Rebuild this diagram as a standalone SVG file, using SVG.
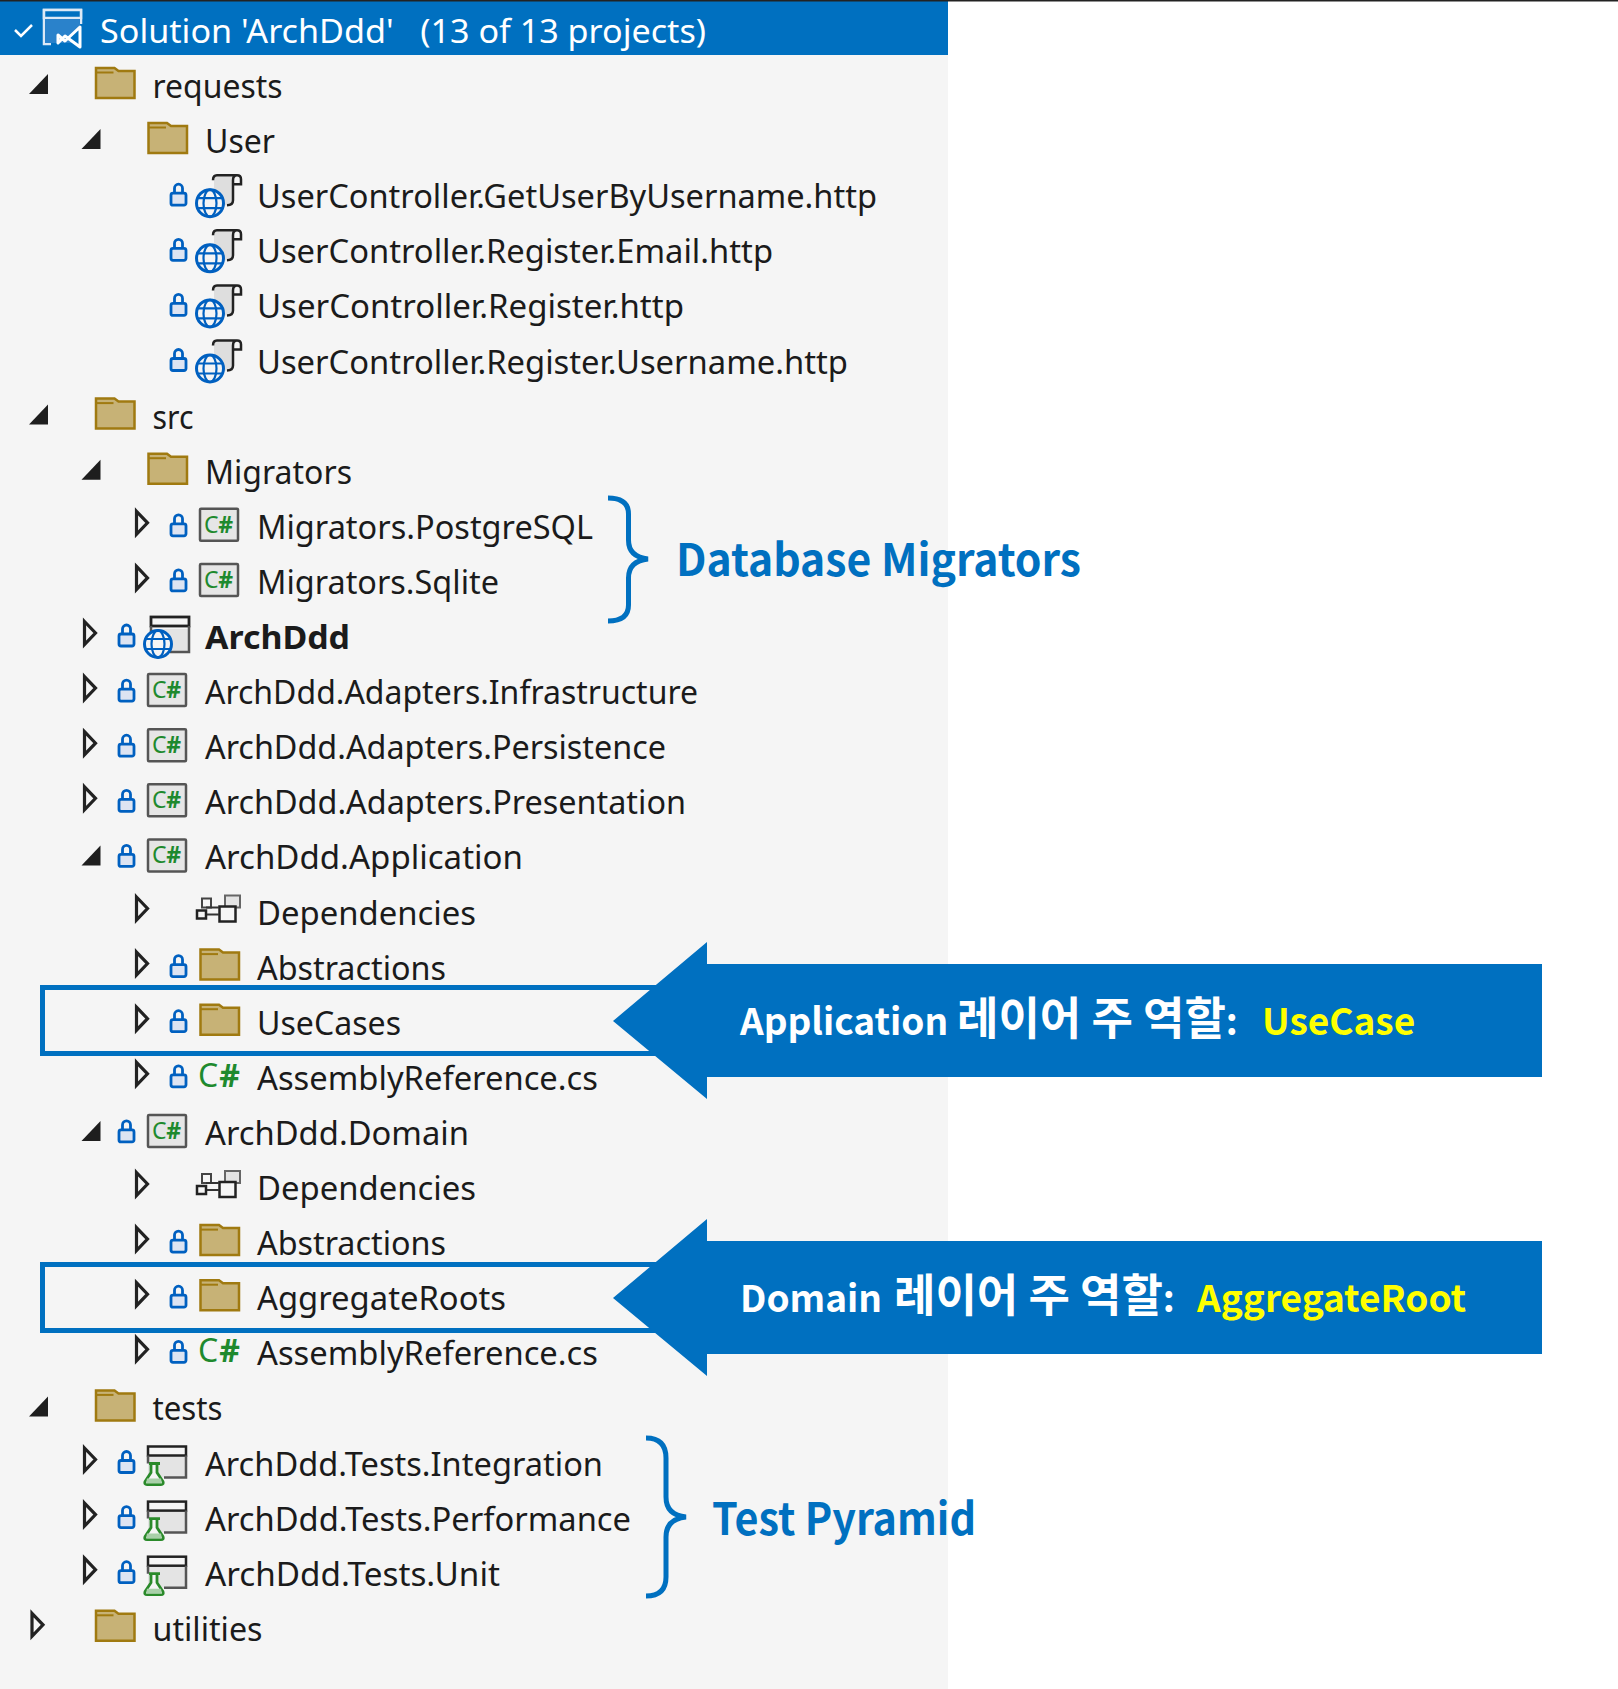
<svg xmlns="http://www.w3.org/2000/svg" width="1618" height="1689" viewBox="0 0 1618 1689">
<style>
.t{font-family:"Noto Sans","Open Sans","Liberation Sans",sans-serif;font-size:32px;fill:#1b1b1b}
.cs{font-family:"Noto Sans","Liberation Sans",sans-serif;font-size:23px;fill:#1e8a2e}
.csp{font-family:"Noto Sans","Liberation Sans",sans-serif;font-size:32px;fill:#1e8a2e}
.sh{font-weight:700}
.hd{font-family:"Noto Sans","Open Sans",sans-serif;font-size:32px;fill:#fff}
.lab{font-family:"Noto Sans CJK KR","Noto Sans",sans-serif;font-weight:700;font-size:44px;fill:#0070c0}
.call{font-family:"Noto Sans CJK KR","Noto Sans",sans-serif;font-weight:700;font-size:37px;fill:#fff}
.ko{font-size:45px}
.y{fill:#ffff00}
.box{fill:none;stroke:#0070c0;stroke-width:5}
.brace{fill:none;stroke:#0070c0;stroke-width:5}
.arrow{fill:#0070c0}
</style>
<defs>
<path id="open" d="M136.500 -27.500L147.500 -16L136.500 -4.500Z" fill="none" stroke="#222" stroke-width="3.200"/>
<path id="fill" d="M152.500 -24V-4H133.500Z" fill="#1e1e1e"/>
<g id="lock"><rect x="171" y="-15" width="15" height="12" rx="2" fill="#dde4f2" stroke="#0060c0" stroke-width="2.800"/><path d="M174.500 -15V-20a4 4 0 0 1 8 0V-15" fill="none" stroke="#0060c0" stroke-width="2.800"/></g>
<g id="folder"><path d="M200.500 0V-30H219L223 -27H239V0Z" fill="#c7b276" stroke="#a07a10" stroke-width="2.500"/><path d="M200.500 -25.500H218" fill="none" stroke="#a07a10" stroke-width="2"/></g>
<rect id="csbox" x="200" y="-30" width="38" height="32" rx="1" fill="#e6e6e6" stroke="#555" stroke-width="2.500"/>
<g id="globe"><circle cx="210" cy="-5" r="13.500" fill="#f5f5f5" stroke="#0060c0" stroke-width="3"/><ellipse cx="210" cy="-5" rx="6.500" ry="13.500" fill="none" stroke="#0060c0" stroke-width="2.200"/><path d="M198 -10H222M198 0H222" fill="none" stroke="#0060c0" stroke-width="2.200"/></g>
<g id="web"><path d="M214 -32H233V-8Q233 -4 229 -3H214Z" fill="#dedede"/><path d="M233 -8V-28Q233 -33 237 -33Q241 -33 241 -29V-24H233M213 -28Q213 -33 217 -33H237M233 -8Q233 -3 227 -3" fill="none" stroke="#222" stroke-width="2.500"/><use href="#globe"/></g>
<g id="dep"><rect x="225" y="-29" width="15" height="12" fill="#e4e4e4" stroke="#666" stroke-width="2"/><rect x="219.500" y="-18" width="16" height="15" fill="#f5f5f5" stroke="#222" stroke-width="2.500"/><rect x="202" y="-26" width="9" height="9" fill="#f5f5f5" stroke="#444" stroke-width="2"/><rect x="197" y="-14" width="9" height="8" fill="#f5f5f5" stroke="#222" stroke-width="2.500"/><path d="M206 -17H219M207 -10H219" fill="none" stroke="#333" stroke-width="2"/></g>
<g id="test"><rect x="200" y="-20" width="37" height="22" fill="#e4e4e4"/><rect x="200" y="-29" width="38" height="9" fill="#f5f5f5" stroke="#222" stroke-width="2.500"/><path d="M200 -20V-12M238 -20V2H216" fill="none" stroke="#555" stroke-width="2.500"/><path d="M201 -12H212M203 -12V-3L197 6Q196 9 199 9H213Q216 9 215 6L209 -3V-12" fill="#f5f5f5" stroke="#2a8a2a" stroke-width="2.800"/><path d="M199 3H213L214 8H198Z" fill="#a9d0a9"/></g>
<g id="webapp"><rect x="203" y="-20" width="37" height="23" fill="#e4e4e4"/><rect x="203" y="-32" width="38" height="9" fill="#f5f5f5" stroke="#222" stroke-width="2.800"/><path d="M203 -23V-15M241 -23V3H222" fill="none" stroke="#555" stroke-width="2.500"/><use href="#globe"/></g>
</defs>
<rect width="1618" height="1689" fill="#fff"/>
<rect width="948" height="1689" fill="#f5f5f5"/>
<rect width="948" height="54" y="1" fill="#0070c0"/>
<rect width="1618" height="1.500" fill="#222"/>
<g id="solution">
<path d="M15 30L21 36L32 25" fill="none" stroke="#fff" stroke-width="2.500"/>
<path d="M51 44H44V10H81V24" fill="none" stroke="#dce9f6" stroke-width="2.500"/><rect x="44" y="10" width="37" height="8" fill="#0070c0" stroke="#dce9f6" stroke-width="2.500"/><rect x="45" y="19" width="35" height="24" fill="#2a82cb"/>
<path d="M58 35L65 41L80 27V47L65 36L58 43Z" fill="#0070c0" stroke="#fff" stroke-width="3" stroke-linejoin="round"/>
<text class="hd" x="100" y="43" xml:space="preserve" textLength="606" lengthAdjust="spacingAndGlyphs">Solution 'ArchDdd'   (13 of 13 projects)</text>
</g>
<g id="n-requests" transform="translate(-104.5,98)"><use href="#fill"/><use href="#folder"/><text class="t" x="257" textLength="130" lengthAdjust="spacingAndGlyphs">requests</text></g>
<g id="n-user" transform="translate(-52,153)"><use href="#fill"/><use href="#folder"/><text class="t" x="257" textLength="70" lengthAdjust="spacingAndGlyphs">User</text></g>
<g id="n-http1" transform="translate(0,208.200)"><use href="#lock"/><use href="#web"/><text class="t" x="257" textLength="620" lengthAdjust="spacingAndGlyphs">UserController.GetUserByUsername.http</text></g>
<g id="n-http2" transform="translate(0,263.300)"><use href="#lock"/><use href="#web"/><text class="t" x="257" textLength="516" lengthAdjust="spacingAndGlyphs">UserController.Register.Email.http</text></g>
<g id="n-http3" transform="translate(0,318.400)"><use href="#lock"/><use href="#web"/><text class="t" x="257" textLength="427" lengthAdjust="spacingAndGlyphs">UserController.Register.http</text></g>
<g id="n-http4" transform="translate(0,373.500)"><use href="#lock"/><use href="#web"/><text class="t" x="257" textLength="591" lengthAdjust="spacingAndGlyphs">UserController.Register.Username.http</text></g>
<g id="n-src" transform="translate(-104.5,428.600)"><use href="#fill"/><use href="#folder"/><text class="t" x="257" textLength="41" lengthAdjust="spacingAndGlyphs">src</text></g>
<g id="n-migrators" transform="translate(-52,483.700)"><use href="#fill"/><use href="#folder"/><text class="t" x="257" textLength="147" lengthAdjust="spacingAndGlyphs">Migrators</text></g>
<g id="n-pg" transform="translate(0,538.800)"><use href="#open"/><use href="#lock"/><use href="#csbox"/><text class="cs" x="204" y="-6" textLength="29">C<tspan class="sh">#</tspan></text><text class="t" x="257" textLength="336" lengthAdjust="spacingAndGlyphs">Migrators.PostgreSQL</text></g>
<g id="n-sqlite" transform="translate(0,593.900)"><use href="#open"/><use href="#lock"/><use href="#csbox"/><text class="cs" x="204" y="-6" textLength="29">C<tspan class="sh">#</tspan></text><text class="t" x="257" textLength="242" lengthAdjust="spacingAndGlyphs">Migrators.Sqlite</text></g>
<g id="n-archddd" transform="translate(-52,649)"><use href="#open"/><use href="#lock"/><use href="#webapp"/><text class="t" x="257" font-weight="700" textLength="145" lengthAdjust="spacingAndGlyphs">ArchDdd</text></g>
<g id="n-infra" transform="translate(-52,704.100)"><use href="#open"/><use href="#lock"/><use href="#csbox"/><text class="cs" x="204" y="-6" textLength="29">C<tspan class="sh">#</tspan></text><text class="t" x="257" textLength="493" lengthAdjust="spacingAndGlyphs">ArchDdd.Adapters.Infrastructure</text></g>
<g id="n-persist" transform="translate(-52,759.200)"><use href="#open"/><use href="#lock"/><use href="#csbox"/><text class="cs" x="204" y="-6" textLength="29">C<tspan class="sh">#</tspan></text><text class="t" x="257" textLength="461" lengthAdjust="spacingAndGlyphs">ArchDdd.Adapters.Persistence</text></g>
<g id="n-present" transform="translate(-52,814.300)"><use href="#open"/><use href="#lock"/><use href="#csbox"/><text class="cs" x="204" y="-6" textLength="29">C<tspan class="sh">#</tspan></text><text class="t" x="257" textLength="481" lengthAdjust="spacingAndGlyphs">ArchDdd.Adapters.Presentation</text></g>
<g id="n-app" transform="translate(-52,869.400)"><use href="#fill"/><use href="#lock"/><use href="#csbox"/><text class="cs" x="204" y="-6" textLength="29">C<tspan class="sh">#</tspan></text><text class="t" x="257" textLength="318" lengthAdjust="spacingAndGlyphs">ArchDdd.Application</text></g>
<g id="n-app-dep" transform="translate(0,924.500)"><use href="#open"/><use href="#dep"/><text class="t" x="257" textLength="219" lengthAdjust="spacingAndGlyphs">Dependencies</text></g>
<g id="n-app-abs" transform="translate(0,979.600)"><use href="#open"/><use href="#lock"/><use href="#folder"/><text class="t" x="257" textLength="189" lengthAdjust="spacingAndGlyphs">Abstractions</text></g>
<g id="n-usecases" transform="translate(0,1034.700)"><use href="#open"/><use href="#lock"/><use href="#folder"/><text class="t" x="257" textLength="144" lengthAdjust="spacingAndGlyphs">UseCases</text></g>
<g id="n-app-asm" transform="translate(0,1089.800)"><use href="#open"/><use href="#lock"/><text class="csp" x="198" y="-3" textLength="42">C<tspan class="sh">#</tspan></text><text class="t" x="257" textLength="341" lengthAdjust="spacingAndGlyphs">AssemblyReference.cs</text></g>
<g id="n-domain" transform="translate(-52,1144.900)"><use href="#fill"/><use href="#lock"/><use href="#csbox"/><text class="cs" x="204" y="-6" textLength="29">C<tspan class="sh">#</tspan></text><text class="t" x="257" textLength="264" lengthAdjust="spacingAndGlyphs">ArchDdd.Domain</text></g>
<g id="n-dom-dep" transform="translate(0,1200)"><use href="#open"/><use href="#dep"/><text class="t" x="257" textLength="219" lengthAdjust="spacingAndGlyphs">Dependencies</text></g>
<g id="n-dom-abs" transform="translate(0,1255.100)"><use href="#open"/><use href="#lock"/><use href="#folder"/><text class="t" x="257" textLength="189" lengthAdjust="spacingAndGlyphs">Abstractions</text></g>
<g id="n-aggregates" transform="translate(0,1310.200)"><use href="#open"/><use href="#lock"/><use href="#folder"/><text class="t" x="257" textLength="249" lengthAdjust="spacingAndGlyphs">AggregateRoots</text></g>
<g id="n-dom-asm" transform="translate(0,1365.300)"><use href="#open"/><use href="#lock"/><text class="csp" x="198" y="-3" textLength="42">C<tspan class="sh">#</tspan></text><text class="t" x="257" textLength="341" lengthAdjust="spacingAndGlyphs">AssemblyReference.cs</text></g>
<g id="n-tests" transform="translate(-104.5,1420.400)"><use href="#fill"/><use href="#folder"/><text class="t" x="257" textLength="70" lengthAdjust="spacingAndGlyphs">tests</text></g>
<g id="n-int" transform="translate(-52,1475.500)"><use href="#open"/><use href="#lock"/><use href="#test"/><text class="t" x="257" textLength="398" lengthAdjust="spacingAndGlyphs">ArchDdd.Tests.Integration</text></g>
<g id="n-perf" transform="translate(-52,1530.600)"><use href="#open"/><use href="#lock"/><use href="#test"/><text class="t" x="257" textLength="426" lengthAdjust="spacingAndGlyphs">ArchDdd.Tests.Performance</text></g>
<g id="n-unit" transform="translate(-52,1585.700)"><use href="#open"/><use href="#lock"/><use href="#test"/><text class="t" x="257" textLength="295" lengthAdjust="spacingAndGlyphs">ArchDdd.Tests.Unit</text></g>
<g id="n-util" transform="translate(-104.5,1640.800)"><use href="#open"/><use href="#folder"/><text class="t" x="257" textLength="110" lengthAdjust="spacingAndGlyphs">utilities</text></g>
<g id="connectors">
<rect class="box" x="42.500" y="987.500" width="640" height="66"/>
<rect class="box" x="42.500" y="1264.500" width="640" height="66"/>
<path class="brace" d="M608 498Q628.500 498 628.500 514V540Q628.500 557 648 559Q628.500 561 628.500 578V605Q628.500 621 608 621"/>
<path class="brace" d="M646 1438Q666 1438 666 1458V1497Q666 1515 686 1517Q666 1519 666 1537V1577Q666 1596 646 1596"/>
</g>
<g id="callout-app"><path class="arrow" d="M613 1021L707 942V964H1542V1077H707V1099Z"/><text class="call" x="740" y="1035">Application <tspan class="ko" x="957">레이어 주 역할</tspan>: <tspan class="y" x="1262">UseCase</tspan></text></g>
<g id="callout-dom"><path class="arrow" d="M613 1298L707 1219V1241H1542V1354H707V1376Z"/><text class="call" x="740" y="1312">Domain <tspan class="ko" x="894">레이어 주 역할</tspan>: <tspan class="y" x="1197">AggregateRoot</tspan></text></g>
<g id="label-mig"><text class="lab" x="676" y="576" textLength="405" lengthAdjust="spacingAndGlyphs">Database Migrators</text></g>
<g id="label-test"><text class="lab" x="712" y="1535" textLength="264" lengthAdjust="spacingAndGlyphs">Test Pyramid</text></g>
</svg>
